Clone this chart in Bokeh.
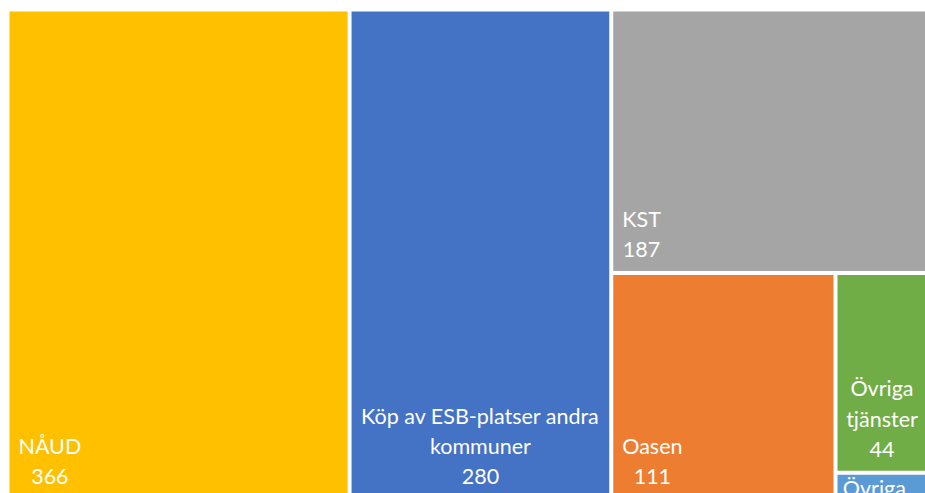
from bokeh.plotting import figure
from bokeh.models import ColumnDataSource, Range1d
from bokeh.core.properties import value
from bokeh.embed import file_html
from bokeh.resources import INLINE

# ---- data ----
categories = ["NÅUD", "Köp av ESB-platser andra kommuner", "KST", "Oasen",
              "Övriga tjänster", "Övriga..."]
values = [366, 280, 187, 111, 44, 6]
display_labels = ["NÅUD", "Köp av ESB-platser andra\nkommuner", "KST", "Oasen",
                  "Övriga\ntjänster", "Övriga..."]
colors = ["#FFC000", "#4472C4", "#A5A5A5", "#ED7D31", "#70AD47", "#5B9BD5"]

# ---- treemap layout (pixel space of the figure) ----
W_FIG, H_FIG = 925, 493
X0, Y0 = 7.0, 9.0           # treemap box origin (figure px, y downward)
BW, BH = 929.0, 490.5       # treemap box size
GAP = 2.0

total = float(sum(values))
cells = []
x = X0
w0 = values[0] / total * BW
cells.append((x, Y0, x + w0, Y0 + BH)); x += w0
w1 = values[1] / total * BW
cells.append((x, Y0, x + w1, Y0 + BH)); x += w1
t3 = float(sum(values[2:]))
w2 = t3 / total * BW
h_kst = values[2] / t3 * BH
cells.append((x, Y0, x + w2, Y0 + h_kst))
rest = float(sum(values[3:]))
w_oas = values[3] / rest * w2
cells.append((x, Y0 + h_kst, x + w_oas, Y0 + BH))
small = float(sum(values[4:]))
xs = x + w_oas
h_ov = values[4] / small * (BH - h_kst)
cells.append((xs, Y0 + h_kst, x + w2, Y0 + h_kst + h_ov))
cells.append((xs, Y0 + h_kst + h_ov, x + w2, Y0 + BH))

left = [c[0] + GAP for c in cells]
right = [c[2] - GAP for c in cells]
top = [c[1] + GAP for c in cells]
bottom = [c[3] - GAP for c in cells]

src = ColumnDataSource(dict(left=left, right=right, top=top, bottom=bottom,
                            color=colors, cat=categories))

p = figure(width=W_FIG, height=H_FIG, output_backend="svg", toolbar_location=None,
           x_range=Range1d(0, W_FIG), y_range=Range1d(H_FIG, 0),
           min_border=0, background_fill_color="white", border_fill_color="white")
p.axis.visible = False
p.grid.visible = False
p.outline_line_color = None

p.quad(left="left", right="right", top="top", bottom="bottom", source=src,
       fill_color="color", line_color=None)

# labels: text = label + value
FONT = value("Lato")
FS = "21.5px"
LH = 1.16
lab_left = dict(x=[], y=[], t=[])
lab_center = dict(x=[], y=[], t=[])
mode = ["left", "center", "left", "left", "center", "center"]
for i in range(len(values)):
    txt = display_labels[i] if i == 5 else f"{display_labels[i]}\n{values[i]}"
    if mode[i] == "left":
        lab_left["x"].append(left[i] + 9)
        lab_left["y"].append(bottom[i] - 9)
        lab_left["t"].append(txt)
    else:
        lab_center["x"].append((left[i] + right[i]) / 2 - (4 if i >= 4 else 0))
        if i == 5:
            lab_center["y"].append(top[i])
        else:
            lab_center["y"].append(bottom[i] - 9)
        lab_center["t"].append(txt)

p.text(x="x", y="y", text="t", source=ColumnDataSource(lab_left),
       text_color="white", text_font=FONT, text_font_size=FS,
       text_align="center", anchor="bottom_left", text_line_height=LH)
p.text(x=lab_center["x"][:2], y=lab_center["y"][:2], text=lab_center["t"][:2],
       text_color="white", text_font=FONT, text_font_size=FS,
       text_align="center", anchor="bottom_center", text_line_height=LH)
p.text(x=lab_center["x"][2:], y=lab_center["y"][2:], text=lab_center["t"][2:],
       text_color="white", text_font=FONT, text_font_size=FS,
       text_align="center", anchor="top_center", text_line_height=LH)

open("out.html", "w").write(file_html(p, INLINE))
